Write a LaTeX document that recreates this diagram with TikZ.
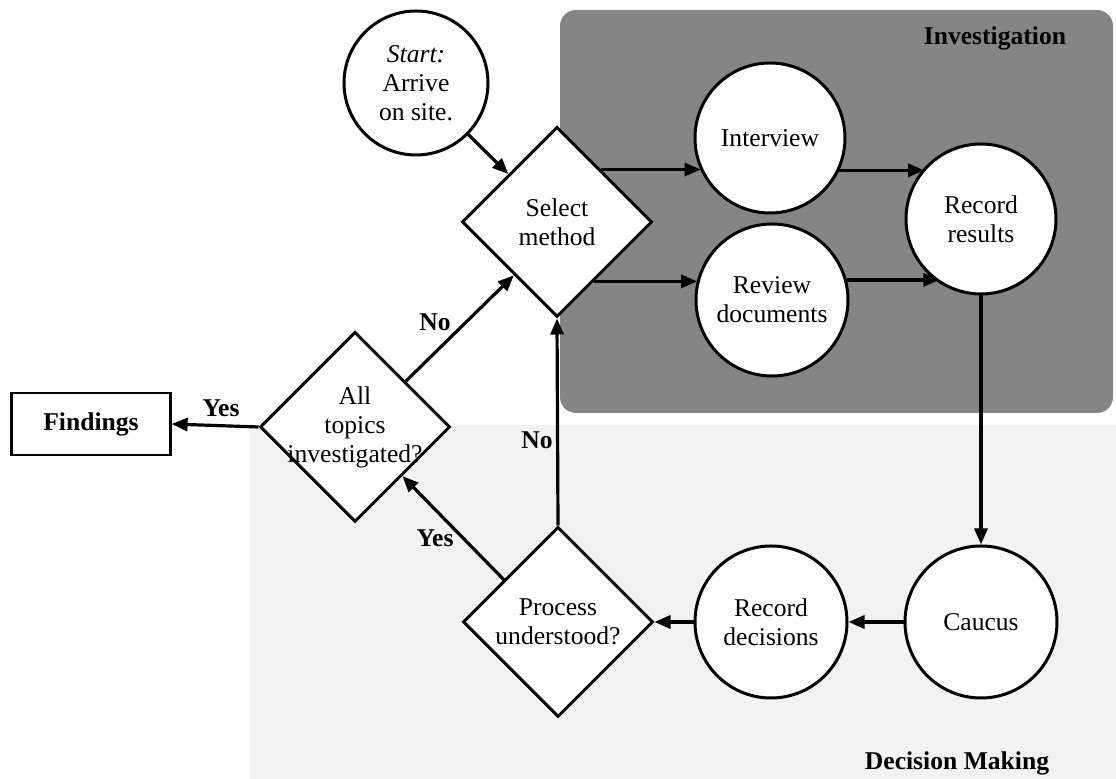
\documentclass[tikz,border=0pt]{standalone}
\usepackage{fontspec}
\setmainfont{Liberation Serif}
\usetikzlibrary{shapes.geometric,arrows.meta}
\begin{document}
\begin{tikzpicture}[x=0.5pt,y=-0.5pt,
  every node/.style={font=\fontsize{12.8}{14.5}\selectfont},
  circ/.style={circle,draw,line width=1.5pt,fill=white,minimum size=75pt,inner sep=0pt,align=center},
  diam/.style={diamond,draw,line width=1.5pt,fill=white,minimum width=95pt,minimum height=95pt,inner sep=-6pt,align=center},
  findbox/.style={rectangle,draw,line width=1.1pt,fill=white,minimum width=79.5pt,minimum height=31pt,font=\fontsize{12.8}{14.5}\selectfont\bfseries},
  arr/.style={line width=1.6pt,-{Triangle[length=8pt,width=6.5pt]}},
  lbl/.style={font=\fontsize{12.8}{14.5}\selectfont\bfseries,inner sep=1pt}]
\useasboundingbox (0,0) rectangle (1116,779);
% regions
\fill[black!5] (250,425) rectangle (1116,779);
\fill[black!48,rounded corners=8pt] (560,10) rectangle (1113,413);
% nodes
\node[circ,minimum size=72pt] (start) at (416,83) {\textit{Start:}\\Arrive\\on site.};
\node[diam] (select) at (557,222) {Select\\method};
\node[circ] (interview) at (770,138) {Interview};
\node[circ,minimum size=76pt] (review) at (772,300) {Review\\documents};
\node[circ] (results) at (981,219) {Record\\results};
\node[circ,minimum size=76pt] (caucus) at (981,622) {Caucus};
\node[circ,minimum size=76pt] (decisions) at (771,622) {Record\\decisions};
\node[diam] (process) at (558,622) {Process\\understood?};
\node[diam] (all) at (355,427) {All\\topics\\investigated?};
\node[findbox] (findings) at (91,424) {Findings};
% labels
\node[lbl] (invlabel) at (995,38) {Investigation};
\node[lbl] (dmlabel) at (957,763) {Decision Making};
\node[lbl] (noA) at (435,322) {No};
\node[lbl] (noB) at (537,440) {No};
\node[lbl] (yesA) at (221,408) {Yes};
\node[lbl] (yesB) at (435,538) {Yes};
% connectors
\draw[arr] (start) -- (select);
\draw[arr] (select.50) -- (interview.205 |- select.50);
\draw[arr] (select.302) -- (review.165 |- select.302);
\draw[arr] (interview.335) -- (results.138 |- interview.335);
\draw[arr] (review.15) -- (results.237 |- review.15);
\draw[arr] (results) -- (caucus);
\draw[arr] (caucus) -- (decisions);
\draw[arr] (decisions) -- (process.east);
\draw[arr] (process.north) -- (select.south);
\draw[arr] (process.142) -- (all.314);
\draw[arr] (all.42) -- (select.231);
\draw[arr] (all.west) -- (findings.east);
\end{tikzpicture}
\end{document}
